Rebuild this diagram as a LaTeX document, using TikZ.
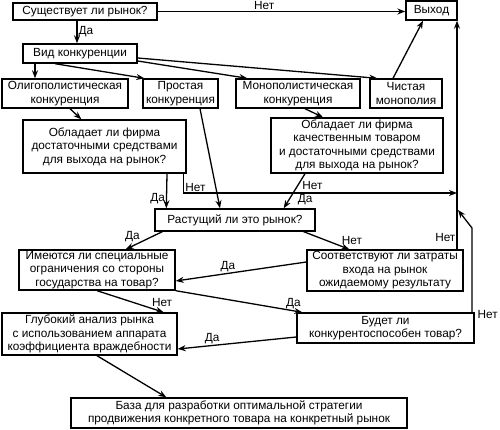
\documentclass[tikz,border=0pt]{standalone}
\usepackage{fontspec}
\setmainfont{Liberation Sans}
\usetikzlibrary{arrows.meta}
\begin{document}
\begin{tikzpicture}[x=1pt,y=-1pt,
  box/.style={draw, line width=1.4pt, inner sep=0pt, align=center, font=\fontsize{11.8}{13.4}\selectfont},
  conn/.style={line width=1.3pt, -{Stealth[length=8pt,width=6pt]}},
  lab/.style={font=\fontsize{11.8}{13.4}\selectfont, inner sep=1pt}]
\useasboundingbox (0,0) rectangle (500,430);
\node[box, minimum width=144pt, minimum height=17pt] (exists) at (85,11.5) {Существует ли рынок?};
\node[box, minimum width=51pt, minimum height=19pt] (exit) at (431.5,10.5) {Выход};
\node[box, minimum width=114pt, minimum height=19pt] (vid) at (80,53.5) {Вид конкуренции};
\node[box, minimum width=126pt, minimum height=29pt] (oligo) at (65,93.5) {Олигополистическая\\конкуренция};
\node[box, minimum width=75pt, minimum height=29pt] (simple) at (180.5,93.5) {Простая\\конкуренция};
\node[box, minimum width=124pt, minimum height=29pt] (monop) at (298,93.5) {Монополистическая\\конкуренция};
\node[box, minimum width=72pt, minimum height=29pt] (pure) at (406,93.5) {Чистая\\монополия};
\node[box, minimum width=163pt, minimum height=53pt] (q1) at (104.5,146.5) {Обладает ли фирма\\достаточными средствами\\для выхода на рынок?};
\node[box, minimum width=172pt, minimum height=55pt] (q2) at (357,145.5) {Обладает ли фирма\\качественным товаром\\и достаточными средствами\\для выхода на рынок?};
\node[box, minimum width=160pt, minimum height=22pt] (grow) at (235,220) {Растущий ли это рынок?};
\node[box, minimum width=156pt, minimum height=40pt] (restr) at (97,270) {Имеются ли специальные\\ограничения со стороны\\государства на товар?};
\node[box, minimum width=156pt, minimum height=41pt] (cost) at (385,270.5) {Соответствуют ли затраты\\входа на рынок\\ожидаемому результату};
\node[box, minimum width=177pt, minimum height=30pt] (comp) at (385.5,328) {Будет ли\\конкурентоспособен товар?};
\node[box, minimum width=175pt, minimum height=42pt] (deep) at (89.5,334) {Глубокий анализ рынка\\с использованием аппарата\\коэффициента враждебности};
\node[box, minimum width=336pt, minimum height=30pt] (base) at (239,413) {База для разработки оптимальной стратегии\\продвижения конкретного товара на конкретный рынок};
\coordinate (joinA) at (457,193);
\coordinate (bend) at (472,228);
\coordinate (joinB) at (458,210);
% connectors
\draw[conn] (exists.east) -- node[lab, above, pos=0.43]{Нет} (exists.east -| exit.west);
\draw[conn] ([xshift=-8pt]exists.south) -- node[lab, right, pos=0.5]{Да} ([xshift=-3pt]vid.north);
\draw[conn] ([xshift=-45pt]vid.south) -- ([xshift=-30pt]oligo.north);
\draw[conn] ([xshift=-25pt]vid.south) -- ([xshift=2pt]simple.north west);
\draw[conn] ([yshift=-7.5pt]vid.east) -- ([xshift=12pt]monop.north west);
\draw[conn] ([yshift=-4.5pt]vid.east) -- ([xshift=8pt]pure.north west);
\draw[conn] ([xshift=5pt]oligo.south) -- ([xshift=59pt]q1.north west);
\draw[conn] ([xshift=19.5pt]simple.south) -- ([xshift=-15pt]grow.north);
\draw[conn] ([xshift=7pt]monop.south) -- ([xshift=-34pt]q2.north);
\draw[conn] ([xshift=-13pt]pure.north) -- ([xshift=-8.5pt]exit.south);
\draw[conn] ([xshift=62.5pt]q1.south) -- node[lab, left, pos=0.72]{Да} ([xshift=12pt]grow.north west);
\draw[conn] ([xshift=-3pt]q1.south east) |- node[lab, above right, pos=0.5]{Нет} (joinA);
\draw[conn] ([xshift=-52pt]q2.south) -- node[lab, anchor=west, pos=0.34, xshift=3pt]{Нет} node[lab, anchor=west, pos=0.74, xshift=7pt]{Да} ([xshift=-32pt]grow.north east);
\draw[conn] ([xshift=72pt]cost.north) -- node[lab, left, pos=0.05]{Нет} ([xshift=25.5pt]exit.south);
\draw[conn] ([xshift=86.5pt]comp.north) node[lab, anchor=west, xshift=4pt, yshift=-2pt]{Нет} -- (bend) -- (joinB);
\draw[conn] ([xshift=8pt]grow.south west) -- node[lab, above left, pos=0.6, inner sep=0pt]{Да} ([xshift=-50pt]restr.north east);
\draw[conn] ([xshift=-12pt]grow.south east) -- node[lab, anchor=south west, pos=0.8]{Нет} ([xshift=43pt]cost.north west);
\draw[conn] ([yshift=8.5pt]cost.west) -- node[lab, above, pos=0.6]{Да} ([yshift=-11pt]restr.east);
\draw[conn] (restr.south east) -- node[lab, above, pos=0.93]{Да} ([xshift=6pt]comp.north west);
\draw[conn] (restr.south) -- node[lab, above right, pos=0.8]{Нет} ([xshift=-14pt]deep.north east);
\draw[conn] ([yshift=-9pt]comp.west) -- node[lab, above, pos=0.71]{Да} ([yshift=-15pt]deep.east);
\draw[conn] ([xshift=7.5pt]deep.south) -- ([xshift=96pt]base.north west);
\end{tikzpicture}
\end{document}
